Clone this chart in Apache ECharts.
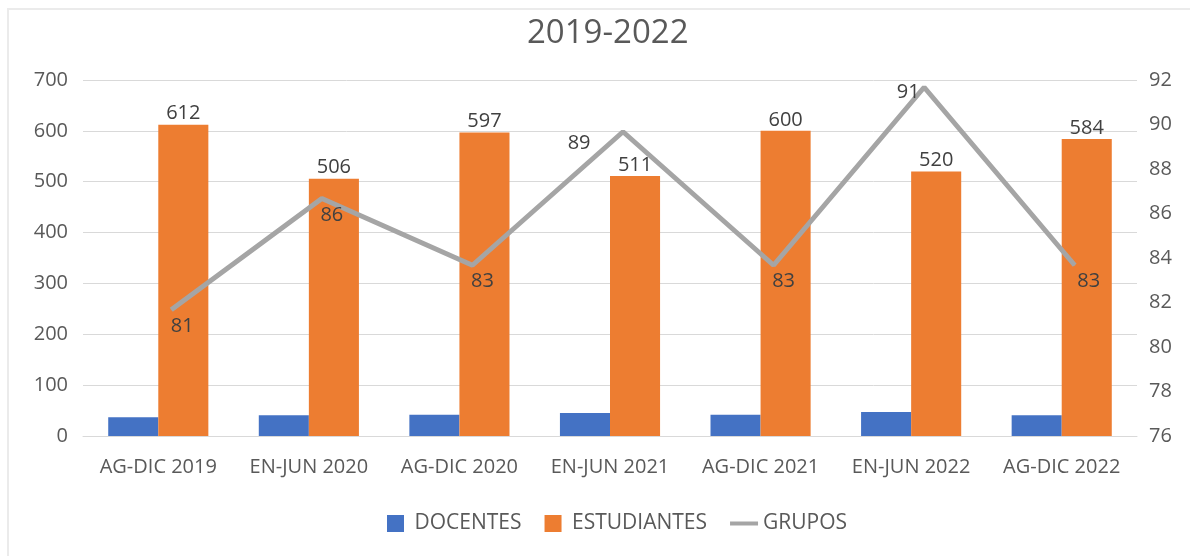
<!DOCTYPE html>
<html>
<head>
<meta charset="utf-8">
<script src="https://cdn.jsdelivr.net/npm/echarts@6/dist/echarts.min.js"></script>
<style>
html,body{margin:0;padding:0;background:#fff;}
#frame{position:absolute;left:7px;top:8px;width:1183px;height:548px;border-top:2px solid #ebebeb;border-left:2px solid #ebebeb;box-sizing:border-box;}
#chart{position:absolute;left:0;top:0;width:1190px;height:556px;}
</style>
</head>
<body>
<div id="frame"></div>
<div id="chart"></div>
<script>
const categories = ['AG-DIC 2019','EN-JUN 2020','AG-DIC 2020','EN-JUN 2021','AG-DIC 2021','EN-JUN 2022','AG-DIC 2022'];
const docentes = [37, 41, 42, 45, 42, 47, 41];
const estudiantes = [612, 506, 597, 511, 600, 520, 584];
const grupos = [81, 86, 83, 89, 83, 91, 83];
const leftTicks = {min: 0, max: 700, interval: 100};
const rightTicks = {min: 76, max: 92, interval: 2};

// per-point label placement for GRUPOS (style only)
const grupoLabelStyle = [
  {position: 'bottom', distance: 6, offset: [11, 0]},
  {position: 'bottom', distance: 6, offset: [10, 0]},
  {position: 'bottom', distance: 6, offset: [10, 0]},
  {position: 'left', distance: 32, offset: [0, 12]},
  {position: 'bottom', distance: 6, offset: [10, 0]},
  {position: 'left', distance: 4, offset: [0, 5]},
  {position: 'bottom', distance: 6, offset: [14, 0]}
];

const FONT = '"Open Sans", "Noto Sans", sans-serif';
const TXT = '#595959';
const G = {left: 83, right: 53, top: 80, bottom: 120};
const chart = echarts.init(document.getElementById('chart'));
chart.setOption({
  animation: false,
  textStyle: {fontFamily: FONT},
  title: {
    text: '2019-2022', left: 522, top: 12,
    textStyle: {fontSize: 33, fontWeight: 'normal', color: TXT, fontFamily: FONT}
  },
  grid: [
    G,
    {left: G.left + 13, right: G.right - 13, top: G.top - 15, bottom: G.bottom + 15}
  ],
  legend: {
    top: 508, left: 382, itemGap: 23, itemWidth: 28, itemHeight: 17,
    textStyle: {fontSize: 21, color: TXT, fontFamily: FONT},
    data: [
      {name: 'DOCENTES', icon: 'path://M0,0H17V17H0Z'},
      {name: 'ESTUDIANTES', icon: 'path://M0,0H17V17H0Z'},
      {name: 'GRUPOS', icon: 'path://M0,0H28V4H0Z'}
    ]
  },
  xAxis: [
    {
      type: 'category', data: categories, gridIndex: 0,
      axisLine: {lineStyle: {color: '#d9d9d9', width: 1}},
      axisTick: {show: false},
      axisLabel: {fontSize: 20, color: TXT, margin: 21, fontFamily: FONT, interval: 0, hideOverlap: false}
    },
    {
      type: 'category', data: categories, gridIndex: 1, show: false
    }
  ],
  yAxis: [
    {
      type: 'value', gridIndex: 0, min: leftTicks.min, max: leftTicks.max, interval: leftTicks.interval,
      axisLine: {show: false}, axisTick: {show: false},
      axisLabel: {fontSize: 20, color: TXT, margin: 15, fontFamily: FONT},
      splitLine: {lineStyle: {color: '#d9d9d9', width: 1}}
    },
    {
      type: 'value', gridIndex: 0, position: 'right', min: rightTicks.min, max: rightTicks.max, interval: rightTicks.interval,
      axisLine: {show: false}, axisTick: {show: false},
      axisLabel: {fontSize: 20, color: TXT, margin: 12, fontFamily: FONT},
      splitLine: {show: false}
    },
    {
      type: 'value', gridIndex: 1, min: rightTicks.min, max: rightTicks.max, interval: rightTicks.interval,
      show: false, splitLine: {show: false}
    }
  ],
  series: [
    {
      name: 'DOCENTES', type: 'bar', data: docentes, xAxisIndex: 0, yAxisIndex: 0,
      barGap: '0%', barCategoryGap: '33.5%',
      itemStyle: {color: '#4472C4'}
    },
    {
      name: 'ESTUDIANTES', type: 'bar', data: estudiantes, xAxisIndex: 0, yAxisIndex: 0,
      barGap: '0%', barCategoryGap: '33.5%',
      itemStyle: {color: '#ED7D31'},
      label: {show: true, position: 'top', distance: 1, fontSize: 20, color: '#404040', fontFamily: FONT}
    },
    {
      name: 'GRUPOS', type: 'line', xAxisIndex: 1, yAxisIndex: 2,
      data: grupos.map((v, i) => ({value: v, label: grupoLabelStyle[i]})),
      symbol: 'circle', symbolSize: 1, showSymbol: true,
      lineStyle: {color: '#A5A5A5', width: 5},
      itemStyle: {color: '#A5A5A5'},
      label: {show: true, fontSize: 20, color: '#404040', fontFamily: FONT},
      z: 5
    }
  ]
});
</script>
</body>
</html>
